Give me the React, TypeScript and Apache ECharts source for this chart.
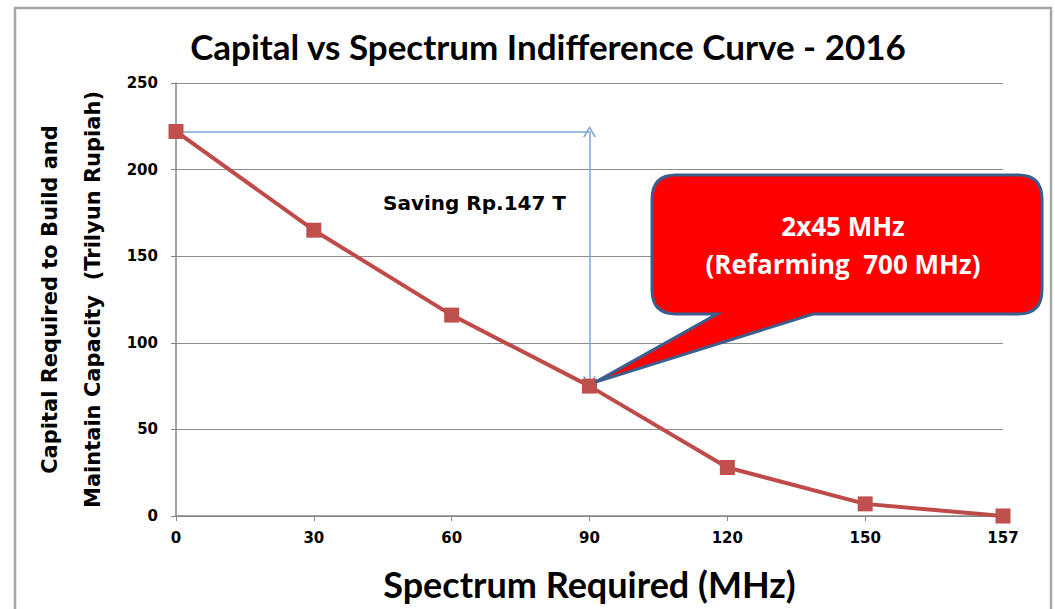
import React, { useEffect, useRef } from "react";
import * as echarts from "echarts";

const categories = ["0", "30", "60", "90", "120", "150", "157"];
const capitalValues = [222, 165, 116, 75, 28, 7, 0];
const yTicks = { min: 0, max: 250, interval: 50 };
const titleText = "Capital vs Spectrum Indifference Curve - 2016";
const xName = "Spectrum Required (MHz)";
const yName = "Capital Required to Build and\nMaintain Capacity  (Trilyun Rupiah)";
const savingText = "Saving Rp.147 T";
const calloutLines = ["2x45 MHz", "(Refarming  700 MHz)"];
const savingFrom = 0; // category index
const savingTo = 3; // category index

export default function App() {
  const ref = useRef<HTMLDivElement>(null);
  useEffect(() => {
    if (!ref.current) return;
    const chart = echarts.init(ref.current, null, { renderer: "svg" });
    const blue = "#7FA3D4";
    const chevron = "path://M0,10 L5,0 L10,10 L8.6,10 L5,2.6 L1.4,10 Z";
    const option: any = {
      animation: false,
      backgroundColor: "#ffffff",
      title: {
        text: titleText,
        left: 543,
        textAlign: "center",
        top: 23,
        textStyle: { fontFamily: "Lato", fontWeight: "bold", fontSize: 35, color: "#000" },
      },
      grid: { left: 176, right: 52, top: 83, bottom: 93, containLabel: false, outerBoundsMode: "none" },
      xAxis: {
        type: "category",
        data: categories,
        boundaryGap: false,
        axisLine: { lineStyle: { color: "#868686", width: 1.5 } },
        axisTick: { show: true, alignWithLabel: true, length: 5, lineStyle: { color: "#868686" } },
        axisLabel: { fontFamily: "DejaVu Sans", fontWeight: "bold", fontSize: 15, color: "#000", margin: 14 },
        name: xName,
        nameLocation: "middle",
        nameGap: 50,
        nameTextStyle: { fontFamily: "Lato", fontWeight: "bold", fontSize: 36, color: "#000" },
        splitLine: { show: false },
      },
      yAxis: {
        type: "value",
        min: yTicks.min,
        max: yTicks.max,
        interval: yTicks.interval,
        axisLine: { show: true, lineStyle: { color: "#868686", width: 1.5 } },
        axisTick: { show: true, length: 5, lineStyle: { color: "#868686" } },
        axisLabel: { fontFamily: "DejaVu Sans", fontWeight: "bold", fontSize: 15, color: "#000", margin: 18 },
        splitLine: { show: true, lineStyle: { color: "#8c8c8c", width: 1 } },
        name: yName,
        nameLocation: "middle",
        nameRotate: 90,
        nameGap: 62,
        nameTextStyle: {
          fontFamily: "DejaVu Sans",
          fontWeight: "bold",
          fontSize: 21,
          lineHeight: 43,
          color: "#000",
          align: "center",
        },
      },
      series: [
        {
          type: "line",
          data: capitalValues,
          symbol: "rect",
          symbolSize: 15,
          itemStyle: { color: "#C0504D" },
          lineStyle: { color: "#BE4B48", width: 4 },
          z: 3,
          markLine: {
            silent: true,
            z: 2,
            animation: false,
            label: { show: false },
            lineStyle: { color: blue, width: 1.5, type: "solid" },
            symbolSize: [13, 11],
            data: [
              [
                { coord: [savingFrom, capitalValues[savingFrom]], symbol: "none" },
                { coord: [savingTo, capitalValues[savingFrom]], symbol: "none" },
              ],
              [
                { coord: [savingTo, capitalValues[savingFrom]], symbol: chevron },
                { coord: [savingTo, capitalValues[savingTo] + 2.5], symbol: chevron },
              ],
            ],
          },
        },
      ],
    };
    chart.setOption(option);

    const tip = chart.convertToPixel({ seriesIndex: 0 }, [savingTo, capitalValues[savingTo]]) as number[];
    const tx = tip[0] + 6;
    const ty = tip[1] - 4;
    const L = 652, R = 1042, T = 175, B = 314, r = 24;
    const d =
      `M${L + r},${T} L${R - r},${T} Q${R},${T} ${R},${T + r} L${R},${B - r} Q${R},${B} ${R - r},${B} ` +
      `L813,${B} L${tx},${ty} L717,${B} L${L + r},${B} Q${L},${B} ${L},${B - r} L${L},${T + r} Q${L},${T} ${L + r},${T} Z`;
    echarts.graphic.registerShape("calloutShape", echarts.graphic.extendPath(d, {}));

    const calloutText = (text: string, y: number) => ({
      type: "text",
      x: 843,
      y,
      z: 11,
      style: {
        text,
        fill: "#ffffff",
        fontFamily: "Open Sans",
        fontWeight: "bold",
        fontSize: 26,
        textAlign: "center",
        textVerticalAlign: "middle",
      },
    });

    chart.setOption({
      graphic: [
        {
          type: "rect",
          shape: { x: 15, y: 8, width: 1036, height: 620 },
          style: { fill: "none", stroke: "#a6a6a6", lineWidth: 2.5 },
          silent: true,
          z: 0,
        },
        {
          type: "calloutShape",
          x: 0,
          y: 0,
          style: { fill: "#FF0000", stroke: "#3A5F8F", lineWidth: 3 },
          z: 10,
        },
        calloutText(calloutLines[0], 226),
        calloutText(calloutLines[1], 264),
        {
          type: "text",
          x: 383,
          y: 203,
          z: 11,
          style: {
            text: savingText,
            fill: "#000",
            fontFamily: "DejaVu Sans",
            fontWeight: "bold",
            fontSize: 20,
            textAlign: "left",
            textVerticalAlign: "middle",
          },
        },
      ],
    });

    return () => chart.dispose();
  }, []);
  return (
    <div
      ref={ref}
      style={{ position: "absolute", left: 0, top: 0, width: 1055, height: 609 }}
    />
  );
}
